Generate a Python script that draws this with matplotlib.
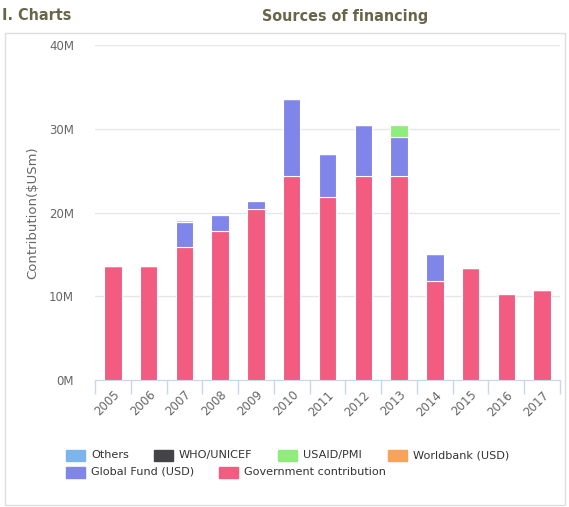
import numpy as np
import matplotlib.pyplot as plt
from matplotlib.patches import Rectangle

# Data (millions USD)
years = ['2005', '2006', '2007', '2008', '2009', '2010', '2011', '2012',
         '2013', '2014', '2015', '2016', '2017']
government = [13.65, 13.65, 15.9, 17.8, 20.4, 24.35, 21.8, 24.4, 24.3, 11.8, 13.4, 10.25, 10.8]
global_fund = [0.0, 0.0, 2.95, 1.9, 1.0, 9.15, 5.2, 6.0, 4.75, 3.25, 0.0, 0.0, 0.0]
worldbank = [0.0] * 13
usaid_pmi = [0.0, 0.0, 0.2, 0.1, 0.1, 0.0, 0.0, 0.0, 1.35, 0.0, 0.0, 0.15, 0.0]
who_unicef = [0.0] * 13
others = [0.0] * 13

series = [
    ('Government contribution', government, '#f15c80'),
    ('Global Fund (USD)', global_fund, '#8085e9'),
    ('Worldbank (USD)', worldbank, '#f7a35c'),
    ('USAID/PMI', usaid_pmi, '#90ed7d'),
    ('WHO/UNICEF', who_unicef, '#434348'),
    ('Others', others, '#7cb5ec'),
]
yticks = [0, 10, 20, 30, 40]

fig = plt.figure(figsize=(5.69, 5.07), dpi=100)
W, H = 569, 507
ax = fig.add_axes([95 / W, 1 - 380 / H, 465 / W, 335 / H])

x = np.arange(len(years))
bottom = np.zeros(len(years))
for name, vals, col in series:
    vals = np.array(vals)
    ax.bar(x, vals, width=0.49, bottom=bottom, color=col,
           edgecolor='white', linewidth=0.8, zorder=3)
    bottom += vals

ax.set_xlim(-0.5, len(years) - 0.5)
ax.set_ylim(0, 40)
ax.set_yticks(yticks)
ax.set_yticklabels([f'{v}M' for v in yticks], color='#666666', fontsize=8.5)
ax.yaxis.grid(True, color='#e6e6e6', linewidth=1, zorder=0)
ax.tick_params(axis='y', length=0, pad=15)

ax.set_xticks(x)
ax.set_xticklabels(years, rotation=45, ha='right', rotation_mode='anchor',
                   color='#666666', fontsize=8.5)
ax.tick_params(axis='x', length=0, pad=6)
ax.set_xticks(np.arange(len(years) + 1) - 0.5, minor=True)
ax.tick_params(axis='x', which='minor', length=10, color='#ccd6eb', width=1)

for s in ['top', 'right', 'left']:
    ax.spines[s].set_visible(False)
ax.spines['bottom'].set_color('#ccd6eb')

ax.set_ylabel('Contribution($USm)', color='#666666', fontsize=9.5)
ax.yaxis.set_label_coords(-0.12, 0.5)

# outer frame
fig.patches.append(Rectangle((5 / W, 1 - 505 / H), 560 / W, 472 / H,
                             transform=fig.transFigure, fill=False,
                             edgecolor='#dddddd', linewidth=1))

title_font = dict(family='DejaVu Sans', fontstretch='condensed', color='#67664a',
                  fontsize=11.5, fontweight='semibold')
fig.text(2 / W, 1 - 16 / H, 'I. Charts', ha='left', va='center', **title_font)
fig.text(345 / W, 1 - 16 / H, 'Sources of financing', ha='center', va='center', **title_font)

# legend
legend_items = [
    ('Others', '#7cb5ec', 66, 455),
    ('WHO/UNICEF', '#434348', 154, 455),
    ('USAID/PMI', '#90ed7d', 278, 455),
    ('Worldbank (USD)', '#f7a35c', 388, 455),
    ('Global Fund (USD)', '#8085e9', 66, 472),
    ('Government contribution', '#f15c80', 219, 472),
]
for name, col, lx, ly in legend_items:
    fig.patches.append(Rectangle((lx / W, 1 - (ly + 5.5) / H), 19 / W, 11 / H,
                                 transform=fig.transFigure, color=col))
    fig.text((lx + 25) / W, 1 - ly / H, name, ha='left', va='center',
             color='#333333', fontsize=8.1)

fig.savefig('out.png', dpi=100)
